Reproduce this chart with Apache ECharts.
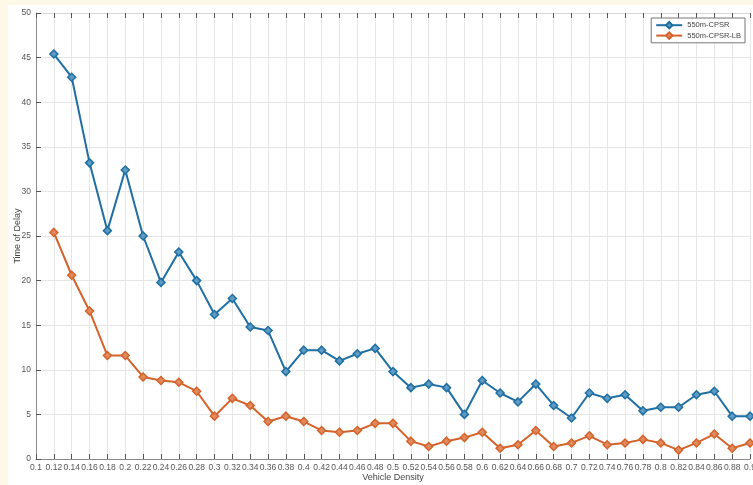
<!DOCTYPE html>
<html>
<head>
<meta charset="utf-8">
<script src="https://cdn.jsdelivr.net/npm/echarts@6/dist/echarts.min.js"></script>
<style>
  html, body { margin: 0; padding: 0; background: #fdf8e7; }
  #chart { width: 753px; height: 485px; }
</style>
</head>
<body>
<div id="chart"></div>
<script>
// Vehicle density samples
const density = [0.12, 0.14, 0.16, 0.18, 0.2, 0.22, 0.24, 0.26, 0.28, 0.3,
  0.32, 0.34, 0.36, 0.38, 0.4, 0.42, 0.44, 0.46, 0.48, 0.5,
  0.52, 0.54, 0.56, 0.58, 0.6, 0.62, 0.64, 0.66, 0.68, 0.7,
  0.72, 0.74, 0.76, 0.78, 0.8, 0.82, 0.84, 0.86, 0.88, 0.9];

// Time of delay, 550m-CPSR
const delayCPSR = [45.4, 42.8, 33.2, 25.6, 32.4, 25.0, 19.8, 23.2, 20.0, 16.2,
  18.0, 14.8, 14.4, 9.8, 12.2, 12.2, 11.0, 11.8, 12.4, 9.8,
  8.0, 8.4, 8.0, 5.0, 8.8, 7.4, 6.4, 8.4, 6.0, 4.6,
  7.4, 6.8, 7.2, 5.4, 5.8, 5.8, 7.2, 7.6, 4.8, 4.8];

// Time of delay, 550m-CPSR-LB
const delayCPSRLB = [25.4, 20.6, 16.6, 11.6, 11.6, 9.2, 8.8, 8.6, 7.6, 4.8,
  6.8, 6.0, 4.2, 4.8, 4.2, 3.2, 3.0, 3.2, 4.0, 4.0,
  2.0, 1.4, 2.0, 2.4, 3.0, 1.2, 1.6, 3.2, 1.4, 1.8,
  2.6, 1.6, 1.8, 2.2, 1.8, 1.0, 1.8, 2.8, 1.2, 1.8];

const seriesNames = ['550m-CPSR', '550m-CPSR-LB'];

const FONT = 'Liberation Sans, Arial, sans-serif';
const BLUE = '#1f6fa3';
const ORANGE = '#d4622b';

const chart = echarts.init(document.getElementById('chart'), null, { renderer: 'canvas' });

const fmt = v => String(+v.toFixed(2));

const xCommon = {
  type: 'value',
  min: 0.1,
  max: 0.9,
  interval: 0.02,
  axisLine: { show: true, lineStyle: { color: '#8a8a8a', width: 1 } },
  axisTick: { show: true, inside: true, length: 5, lineStyle: { color: '#555' } }
};

chart.setOption({
  backgroundColor: '#fdf8e7',
  animation: false,
  graphic: [{
    type: 'rect',
    z: -10,
    shape: { x: 8, y: 5, width: 760, height: 490 },
    style: { fill: '#ffffff' }
  }],
  grid: { left: 36, top: 13, width: 714, height: 446, outerBoundsMode: 'none', containLabel: false },
  legend: {
    data: seriesNames,
    orient: 'vertical',
    right: 8,
    top: 18,
    backgroundColor: '#ffffff',
    borderColor: '#777',
    borderWidth: 1,
    padding: [3, 4],
    itemGap: 2,
    itemWidth: 26,
    itemHeight: 8,
    textStyle: { fontFamily: FONT, fontSize: 7.5, color: '#444' }
  },
  xAxis: [
    Object.assign({}, xCommon, {
      position: 'bottom',
      name: 'Vehicle Density',
      nameLocation: 'middle',
      nameGap: 14,
      nameMoveOverlap: false,
      nameTextStyle: { fontFamily: FONT, fontSize: 9, color: '#444' },
      axisLabel: { formatter: fmt, fontFamily: FONT, fontSize: 8.5, color: '#555', margin: 4, showMaxLabel: true },
      splitLine: { show: true, lineStyle: { color: '#e6e6e6', width: 1 } }
    }),
    Object.assign({}, xCommon, {
      position: 'top',
      axisLine: { show: true, lineStyle: { color: '#d8d8d8', width: 1 } },
      axisLabel: { show: false },
      splitLine: { show: false }
    })
  ],
  yAxis: {
    type: 'value',
    min: 0,
    max: 50,
    interval: 5,
    name: 'Time of Delay',
    nameLocation: 'middle',
    nameGap: 14,
    nameMoveOverlap: false,
    nameTextStyle: { fontFamily: FONT, fontSize: 9, color: '#444' },
    axisLine: { show: true, lineStyle: { color: '#8a8a8a', width: 1 } },
    axisTick: { show: true, inside: true, length: 5, lineStyle: { color: '#555' } },
    axisLabel: { fontFamily: FONT, fontSize: 8.5, color: '#555', margin: 5 },
    splitLine: { show: true, lineStyle: { color: '#e6e6e6', width: 1 } }
  },
  series: [
    {
      name: seriesNames[0],
      type: 'line',
      data: density.map((x, i) => [x, delayCPSR[i]]),
      symbol: 'diamond',
      symbolSize: 8,
      lineStyle: { color: BLUE, width: 2 },
      itemStyle: { color: '#5d9ac4', borderColor: BLUE, borderWidth: 1.5 },
      z: 3
    },
    {
      name: seriesNames[1],
      type: 'line',
      data: density.map((x, i) => [x, delayCPSRLB[i]]),
      symbol: 'diamond',
      symbolSize: 8,
      lineStyle: { color: ORANGE, width: 2 },
      itemStyle: { color: '#e08a5c', borderColor: ORANGE, borderWidth: 1.5 },
      z: 2
    }
  ]
});
</script>
</body>
</html>
